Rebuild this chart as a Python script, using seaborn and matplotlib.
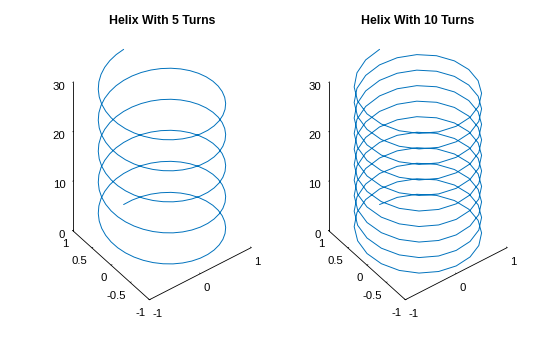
import numpy as np
import matplotlib
matplotlib.use("Agg")
import matplotlib.pyplot as plt
import seaborn as sns

# Data definition (MATLAB plot3 example)
t_step = np.pi / 20
t_max = 10 * np.pi
freq = [1, 2]             # sin(k t), cos(k t): 5 and 10 turns
titles = ["Helix With 5 Turns", "Helix With 10 Turns"]
z_ticks = [0, 10, 20, 30]
x_ticks = [-1, 0, 1]
y_ticks = [-1, -0.5, 0, 0.5, 1]

sns.set_theme(style="white")
plt.rcParams["font.family"] = ["Liberation Sans", "DejaVu Sans"]

t = np.arange(0, t_max + t_step / 2, t_step)
line_color = "#0072BD"

fig = plt.figure(figsize=(5.6, 3.37), dpi=100)
positions = [[0.053, 0.040, 0.46, 0.92], [0.51, 0.040, 0.46, 0.92]]
title_x = [162 / 560, 418 / 560]

for i, k in enumerate(freq):
    ax = fig.add_axes(positions[i], projection="3d", proj_type="ortho")
    xs = np.sin(k * t)
    ys = np.cos(k * t)
    ax.plot(xs, ys, t, color=line_color, linewidth=0.7, clip_on=False)
    ax.set_xlim(-1, 1)
    ax.set_ylim(-1, 1)
    ax.set_zlim(0, 30)
    ax.set_xticks(x_ticks)
    ax.set_yticks(y_ticks)
    ax.set_zticks(z_ticks)
    ax.set_xticklabels([f"{v:g}" for v in x_ticks], ha="left")
    ax.set_yticklabels([f"{v:g}" for v in y_ticks], ha="right")
    ax.set_zticklabels([f"{v:g}" for v in z_ticks], ha="right")
    ax.view_init(elev=42.8, azim=-127.0)
    ax.set_box_aspect((1, 1, 1.585), zoom=1.02)
    ax.grid(False)
    for axis in (ax.xaxis, ax.yaxis, ax.zaxis):
        axis.set_pane_color((1, 1, 1, 0))
        axis.pane.set_edgecolor((1, 1, 1, 0))
        axis.line.set_color("black")
        axis.line.set_linewidth(0.6)
        axis._axinfo["tick"]["inward_factor"] = 0.0
        axis._axinfo["tick"]["outward_factor"] = 0.12
        axis._axinfo["tick"]["linewidth"] = {True: 0.5, False: 0.5}
    ax.tick_params(axis="both", labelsize=8.2, pad=-4, colors="black")
    fig.text(title_x[i], 1 - 21 / 337, titles[i], ha="center", va="center",
             fontsize=8.8, fontweight="bold", color="black")

fig.savefig("out.png", dpi=100)
